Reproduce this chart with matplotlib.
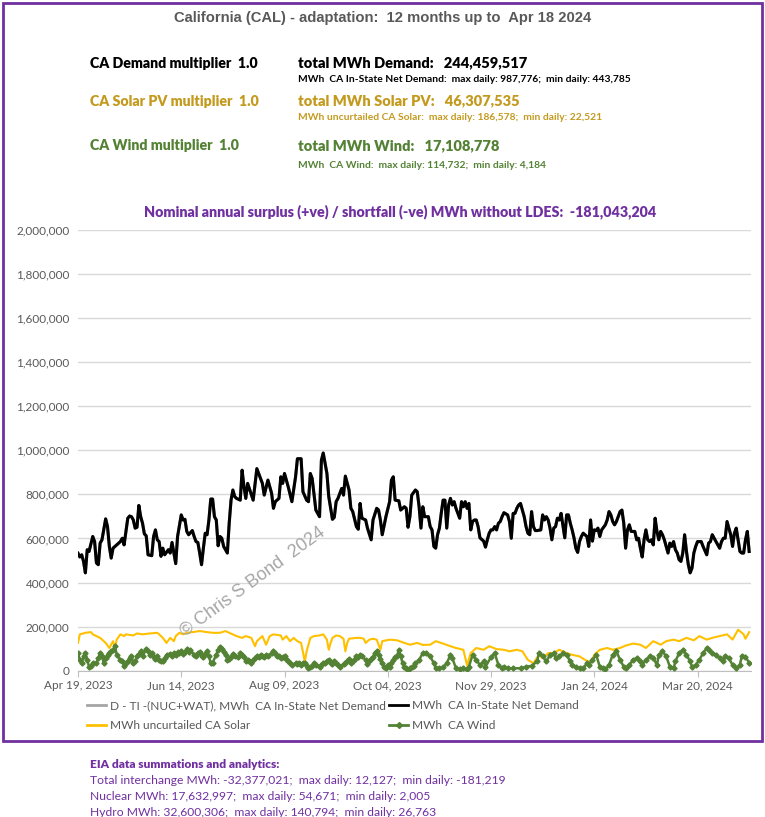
import matplotlib
matplotlib.use('Agg')
import matplotlib.pyplot as plt
import matplotlib.dates as mdates
import matplotlib.ticker as mticker
from matplotlib.patches import Rectangle
from matplotlib.lines import Line2D
import numpy as np
import pandas as pd

# Fecha inicial del periodo (12 meses hasta Apr 18 2024)
INICIO = pd.Timestamp('2023-04-19')
FIN = pd.Timestamp('2024-04-18')

# Demanda neta CA (dias desde el inicio, miles de MWh)
demanda_dia = [0, 1, 2, 3, 4, 5, 6, 8, 9, 10, 11, 12, 13, 15, 16, 17, 18, 19, 21, 23, 24, 25, 27, 28, 29, 30,
               31, 32, 33, 34, 35, 36, 37, 38, 40, 41, 42, 43, 44, 45, 46, 47, 49, 50, 51, 53, 54, 56, 57, 58,
               59, 60, 62, 63, 64, 65, 66, 67, 68, 69, 70, 71, 72, 73, 74, 75, 76, 77, 78, 79, 81, 82, 83, 84,
               85, 86, 88, 89, 90, 91, 92,
               95, 97, 100, 101, 103, 105, 106, 107, 109, 110, 111, 112, 113, 114, 116, 118, 119, 121, 122,
               124, 125, 126, 127, 129, 131, 132, 133, 135, 136, 138, 139, 140, 141, 143, 144, 145, 147, 148,
               149, 151, 152, 153, 154, 156, 157, 159, 160, 162, 163, 164, 165, 167, 169, 170, 171, 172, 174,
               175, 177, 178, 179, 180, 181, 183, 184,
               185, 186, 187, 188, 190, 191, 192, 193, 194, 195, 196, 197, 198, 199, 200, 201, 202, 203, 204,
               205, 207, 208, 209, 210, 211, 212, 213, 214, 215, 216, 217, 218, 220, 221, 222, 223, 224, 225,
               226, 227, 228, 229, 230, 231, 233, 234, 235, 236, 237, 238, 239, 240, 241, 242, 243, 244, 245,
               246, 247, 248, 249, 251, 252, 253, 254, 255, 256, 257, 258, 259, 260, 261, 262, 264, 265, 266,
               267, 268, 269, 270, 271, 272, 273, 274, 276, 277,
               278, 279, 280, 281, 282, 283, 284, 286, 287, 288, 289, 290, 291, 292, 293, 294, 295, 296, 297,
               298, 299, 300, 302, 303, 304, 305, 306, 307, 308, 309, 310, 311, 312, 313, 314, 315, 316, 317,
               318, 320, 321, 322, 323, 324, 325, 326, 327, 328, 329, 330, 331, 332, 333, 334, 335, 336, 337,
               338, 339, 341, 342, 343, 344, 345, 346, 347, 348, 349, 350, 351, 352, 354, 355, 356, 357, 358,
               359, 360, 361, 362, 363, 364]
demanda_k = [533, 516, 526, 496, 444, 549, 541, 609, 586, 489, 481, 579, 594, 689, 654, 564, 511, 556, 571, 586,
             601, 571, 692, 702, 699, 684, 647, 651, 750, 699, 669, 621, 612, 526, 522, 609, 639, 594, 586, 519,
             556, 526, 549, 534, 582, 486, 609, 707, 684, 687, 632, 617, 636, 609, 586, 582, 534, 481, 556, 624,
             617, 684, 779, 779, 699, 684, 567, 609, 601, 564, 534, 669, 774, 820, 790, 782, 774, 910, 835, 782,
             850,
             774, 917, 850, 797, 865, 805, 737, 767, 782, 880, 850, 895, 865, 835, 767, 880, 962, 962, 812,
             774, 767, 895, 872, 729, 699, 955, 988, 895, 790, 687, 696, 767, 782, 827, 797, 883, 820, 737,
             722, 654, 642, 759, 692, 684, 647, 594, 684, 737, 729, 684, 617, 699, 767, 865, 880, 774, 771,
             729, 744, 737, 651, 699, 797, 820, 812,
             744, 647, 744, 699, 699, 654, 639, 564, 556, 617, 647, 714, 774, 774, 647, 752, 782, 752, 767,
             737, 692, 767, 744, 767, 737, 759, 639, 677, 684, 684, 654, 603, 588, 561, 594, 624, 639, 639,
             654, 639, 669, 677, 699, 717, 707, 677, 601, 714, 714, 737, 752, 759, 729, 699, 654, 624, 617,
             722, 654, 636, 636, 639, 707, 684, 699, 684, 647, 594, 647, 654, 692, 684, 714, 603, 707, 707,
             669, 639, 603, 556, 537, 586, 609, 624, 609, 564,
             684, 588, 639, 636, 647, 609, 639, 662, 684, 722, 707, 677, 662, 677, 699, 722, 729, 669, 556,
             639, 662, 632, 632, 594, 601, 556, 516, 594, 639, 594, 586, 594, 571, 692, 632, 594, 632, 617,
             594, 534, 579, 564, 586, 549, 534, 504, 496, 534, 617, 541, 481, 444, 466, 534, 564, 586, 586,
             586, 564, 526, 579, 586, 617, 601, 586, 571, 556, 586, 601, 601, 677, 617, 564, 624, 647, 594,
             541, 534, 534, 594, 632, 541]

# Solar CA sin recorte (miles de MWh)
solar_dia = [0, 1, 4, 7, 8, 10, 12, 14, 15, 17, 19, 20, 21, 23, 25, 26, 30, 32, 35, 39, 43, 44, 46, 48, 50,
             52, 53, 55, 57, 59, 62, 66, 70, 73, 77, 80, 82, 86, 89, 91, 94, 96, 97, 99, 100, 102, 104, 106,
             110, 111, 113, 115, 117, 118, 119, 121, 123, 124, 126, 128, 131, 133, 135, 136, 137, 138, 140,
             142, 144, 145, 146, 147, 151, 153, 155, 156, 158, 160, 162, 164,
             165, 169, 173, 176, 180, 184, 187, 191, 194, 198, 202, 205, 209, 211, 213, 216, 220, 223, 227,
             231, 234, 238, 241, 244, 247, 250, 252, 255, 258, 261, 265, 268, 272, 275, 278, 280, 283, 287,
             290, 294, 297, 301, 305, 308, 312, 316, 319, 323, 326, 330, 334, 337, 341, 344, 348, 352, 355,
             358, 361, 362, 364]
solar_k = [126, 165, 172, 175, 165, 157, 149, 134, 126, 103, 134, 103, 141, 165, 157, 165, 160, 169, 165, 169,
           172, 165, 149, 126, 149, 134, 157, 172, 165, 172, 175, 180, 175, 172, 172, 180, 172, 157, 149, 157,
           149, 111, 134, 149, 157, 118, 157, 165, 160, 141, 157, 134, 149, 141, 134, 126, 42, 88, 149, 157,
           160, 165, 141, 95, 126, 149, 160, 157, 145, 88, 126, 145, 149, 149, 145, 126, 141, 145, 141, 95,
           134, 141, 138, 129, 118, 126, 117, 118, 134, 123, 111, 103, 95, 25, 80, 103, 95, 111, 98,
           95, 88, 95, 88, 49, 34, 72, 57, 80, 80, 95, 80, 72, 65, 49, 37, 72, 95, 103,
           95, 103, 114, 123, 118, 103, 134, 118, 134, 141, 134, 149, 138, 157, 141, 149, 157, 165, 141,
           186, 165, 145, 175]

# Eolica CA (miles de MWh)
eolica_dia = [0, 1, 2, 3, 4, 5, 6, 7, 8, 10, 11, 12, 13, 14, 15, 16, 17, 18, 19, 20, 21, 23, 24, 25, 26, 27,
              28, 29, 30, 31, 32, 33, 34, 35, 37, 38, 39, 40, 41, 42, 43, 44, 45, 46, 47, 48, 50, 51, 52, 53,
              54, 55, 56, 57, 58, 59, 60, 61, 63, 64, 65, 66, 67, 68, 69, 70, 71, 72, 73, 75, 76, 77, 78, 79,
              80, 81, 82, 83, 84, 85, 87, 88, 89, 90, 91, 92,
              93, 94, 95, 96, 97, 98, 99, 100, 101, 102, 103, 105, 106, 107, 108, 109, 110, 111, 112, 113,
              114, 115, 116, 118, 119, 120, 121, 122, 123, 124, 125, 126, 127, 128, 129, 131, 132, 133, 134,
              135, 136, 137, 138, 139, 140, 141, 142, 144, 145, 146, 147, 148, 149, 150, 151, 152, 153, 154,
              156, 157, 158, 159, 160, 161, 162, 163, 164, 165, 166, 167, 168, 169, 170, 171, 172, 173, 174,
              175, 176, 177, 178, 179, 180, 181, 182, 183,
              185, 187, 189, 191, 193, 194, 196, 198, 200, 202, 203, 205, 207, 209, 211, 212, 214, 216, 218,
              220, 221, 224, 226, 228, 230, 231, 233, 236, 240, 243, 246, 249, 250, 252, 254, 256, 258, 259,
              261, 263, 265, 267, 268, 270, 272, 274, 276, 277, 279, 281, 283, 285, 286, 288, 290, 292, 294,
              296, 297, 299, 301, 303, 305, 306, 308, 310, 312, 314, 315, 317, 319, 321, 323, 324, 326, 328,
              330, 332, 333, 335, 337, 339, 341, 342, 344, 346, 348, 350, 351, 353, 355, 357, 359, 360, 362,
              364]
eolica_k = [80, 49, 34, 65, 80, 49, 18, 22, 34, 34, 57, 80, 65, 34, 57, 72, 80, 88, 92, 114, 72, 49, 42, 22,
            34, 42, 57, 65, 34, 42, 65, 77, 88, 65, 98, 88, 72, 80, 62, 52, 65, 49, 42, 46, 57, 72, 77, 68,
            80, 72, 83, 80, 88, 77, 83, 98, 83, 95, 72, 65, 80, 83, 65, 62, 77, 88, 65, 34, 37, 72, 95, 108,
            98, 83, 72, 49, 52, 62, 77, 68, 62, 80, 72, 62, 42, 49,
            42, 34, 49, 57, 65, 62, 72, 65, 62, 72, 68, 80, 88, 80, 68, 65, 57, 62, 65, 52,
            42, 37, 26, 34, 31, 37, 26, 34, 37, 22, 11, 18, 22, 34, 26, 15, 26, 34, 37,
            42, 49, 37, 31, 42, 34, 26, 18, 31, 37, 46, 52, 34, 42, 52, 65, 62, 72, 65,
            49, 31, 42, 52, 62, 80, 88, 72, 52, 37, 18, 11, 26, 18, 37, 49, 60, 68, 92, 68,
            34, 18, 11, 4, 11, 18, 22, 34,
            49, 80, 80, 65, 34, 11, 11, 15, 34, 72, 57, 11, 6, 11, 6, 18, 72, 49, 26,
            42, 18, 62, 80, 26, 11, 18, 11, 11, 11, 18, 22, 42, 80, 65, 42, 72, 80, 57,
            65, 80, 72, 42, 26, 18, 11, 11, 34, 26, 49, 72, 18, 11, 6, 26, 72, 88, 49,
            18, 11, 26, 49, 57, 42, 26, 49, 65, 57, 26, 72, 88, 65, 18, 11, 42, 80, 95,
            72, 42, 18, 26, 49, 80, 103, 95, 80, 72, 57, 42, 65, 57, 26, 11, 26, 68, 62,
            37]

COLOR_MORADO = '#7030A0'
COLOR_GRIS = '#595959'
COLOR_SOLAR_TXT = '#C49A1E'
COLOR_EOLICA = '#548235'

plt.rcParams['font.family'] = ['Lato', 'DejaVu Sans']

fig = plt.figure(figsize=(7.65, 8.17), dpi=100)

# Marco morado
fig.patches.append(Rectangle((3 / 765, 1 - 741 / 817), 759 / 765, 738 / 817, transform=fig.transFigure,
                             fill=False, edgecolor=COLOR_MORADO, linewidth=2))

ax = fig.add_axes([78 / 765, 1 - 670.7 / 817, (751 - 78) / 765, (670.7 - 230) / 817])

f_dem = INICIO + pd.to_timedelta(demanda_dia, unit='D')
f_sol = INICIO + pd.to_timedelta(solar_dia, unit='D')
f_eol = INICIO + pd.to_timedelta(eolica_dia, unit='D')
dem = np.array(demanda_k) * 1000
sol = np.array(solar_k) * 1000
eol = np.array(eolica_k) * 1000

ax.plot(f_dem, dem, color='#A5A5A5', lw=2.2, zorder=2)
ax.plot(f_dem, dem, color='black', lw=2.2, zorder=3)
ax.plot(f_sol, sol, color='#FFC000', lw=1.5, zorder=4)
ax.plot(f_eol, eol, color=COLOR_EOLICA, lw=1.8, marker='D', ms=2.6, zorder=5)

ax.set_xlim(INICIO, FIN)
ax.set_ylim(0, 2000000)
ax.set_xticks([INICIO + pd.Timedelta(days=56 * k) for k in range(7)])
ax.xaxis.set_major_formatter(mdates.DateFormatter('%b %d, %Y'))
ax.yaxis.set_major_locator(mticker.MultipleLocator(200000))
ax.yaxis.set_major_formatter(mticker.FuncFormatter(lambda v, p: f'{int(v):,}'))
ax.grid(axis='y', color='#D9D9D9', lw=1)
ax.set_axisbelow(True)
for lado in ['top', 'right', 'left']:
    ax.spines[lado].set_visible(False)
ax.spines['bottom'].set_color('#BFBFBF')
ax.tick_params(axis='y', length=0, labelsize=8.5, labelcolor=COLOR_GRIS, pad=6)
ax.tick_params(axis='x', length=4, color='#BFBFBF', labelsize=8.5, labelcolor=COLOR_GRIS, pad=3)

# Marca de agua
fig.text(253 / 765, 1 - 582 / 817, '© Chris S Bond  2024', rotation=36, color='#A6A6A6',
         fontsize=13, ha='center', va='center', family=['Liberation Sans', 'DejaVu Sans'])

# Leyenda
handles = [Line2D([], [], color='#A5A5A5', lw=2),
           Line2D([], [], color='#FFC000', lw=2),
           Line2D([], [], color='black', lw=2),
           Line2D([], [], color=COLOR_EOLICA, lw=2, marker='D', ms=3)]
labels = ['D - TI -(NUC+WAT), MWh  CA In-State Net Demand', 'MWh uncurtailed CA Solar',
          'MWh  CA In-State Net Demand', 'MWh  CA Wind']
fig.legend(handles, labels, ncol=2, loc='upper left', bbox_to_anchor=(87 / 765, 1 - 700 / 817),
           frameon=False, fontsize=8.6, labelcolor=COLOR_GRIS, handlelength=1.6, handletextpad=0.3,
           columnspacing=0.3, borderpad=0, borderaxespad=0, labelspacing=0.75, numpoints=1)

# Titulo y textos
fig.text(383 / 765, 1 - 18 / 817, 'California (CAL) - adaptation:  12 months up to  Apr 18 2024',
         ha='center', va='center', fontsize=10.6, fontweight='bold', color=COLOR_GRIS,
         family=['Liberation Sans', 'DejaVu Sans'])

x1, x2 = 90 / 765, 298 / 765
def y(p):
    return 1 - p / 817

fig.text(x1, y(63), 'CA Demand multiplier  1.0', fontsize=10.2, fontweight='heavy', color='black', va='center')
fig.text(x2, y(63), 'total MWh Demand:   244,459,517', fontsize=10.5, fontweight='heavy', color='black', va='center')
fig.text(x2, y(80), 'MWh  CA In-State Net Demand:  max daily: 987,776;  min daily: 443,785',
         fontsize=7.4, fontweight='bold', color='black', va='center')
fig.text(x1, y(101), 'CA Solar PV multiplier  1.0', fontsize=10.2, fontweight='heavy', color=COLOR_SOLAR_TXT, va='center')
fig.text(x2, y(101), 'total MWh Solar PV:   46,307,535', fontsize=10.5, fontweight='heavy', color=COLOR_SOLAR_TXT, va='center')
fig.text(x2, y(118), 'MWh uncurtailed CA Solar:  max daily: 186,578;  min daily: 22,521',
         fontsize=7.4, fontweight='bold', color=COLOR_SOLAR_TXT, va='center')
fig.text(x1, y(146), 'CA Wind multiplier  1.0', fontsize=10.2, fontweight='heavy', color=COLOR_EOLICA, va='center')
fig.text(x2, y(146), 'total MWh Wind:   17,108,778', fontsize=10.5, fontweight='heavy', color=COLOR_EOLICA, va='center')
fig.text(x2, y(165), 'MWh  CA Wind:  max daily: 114,732;  min daily: 4,184',
         fontsize=7.4, fontweight='bold', color=COLOR_EOLICA, va='center')
fig.text(400 / 765, y(212), 'Nominal annual surplus (+ve) / shortfall (-ve) MWh without LDES:  -181,043,204',
         ha='center', va='center', fontsize=10.3, fontweight='heavy', color=COLOR_MORADO)

# Resumen EIA
fig.text(x1, y(764), 'EIA data summations and analytics:', fontsize=8.6, fontweight='heavy',
         color=COLOR_MORADO, va='center')
fig.text(x1, y(781), 'Total interchange MWh: -32,377,021;  max daily: 12,127;  min daily: -181,219',
         fontsize=8.7, color=COLOR_MORADO, va='center')
fig.text(x1, y(797), 'Nuclear MWh: 17,632,997;  max daily: 54,671;  min daily: 2,005',
         fontsize=8.7, color=COLOR_MORADO, va='center')
fig.text(x1, y(813), 'Hydro MWh: 32,600,306;  max daily: 140,794;  min daily: 26,763',
         fontsize=8.7, color=COLOR_MORADO, va='center')

fig.savefig('out.png', dpi=100)
